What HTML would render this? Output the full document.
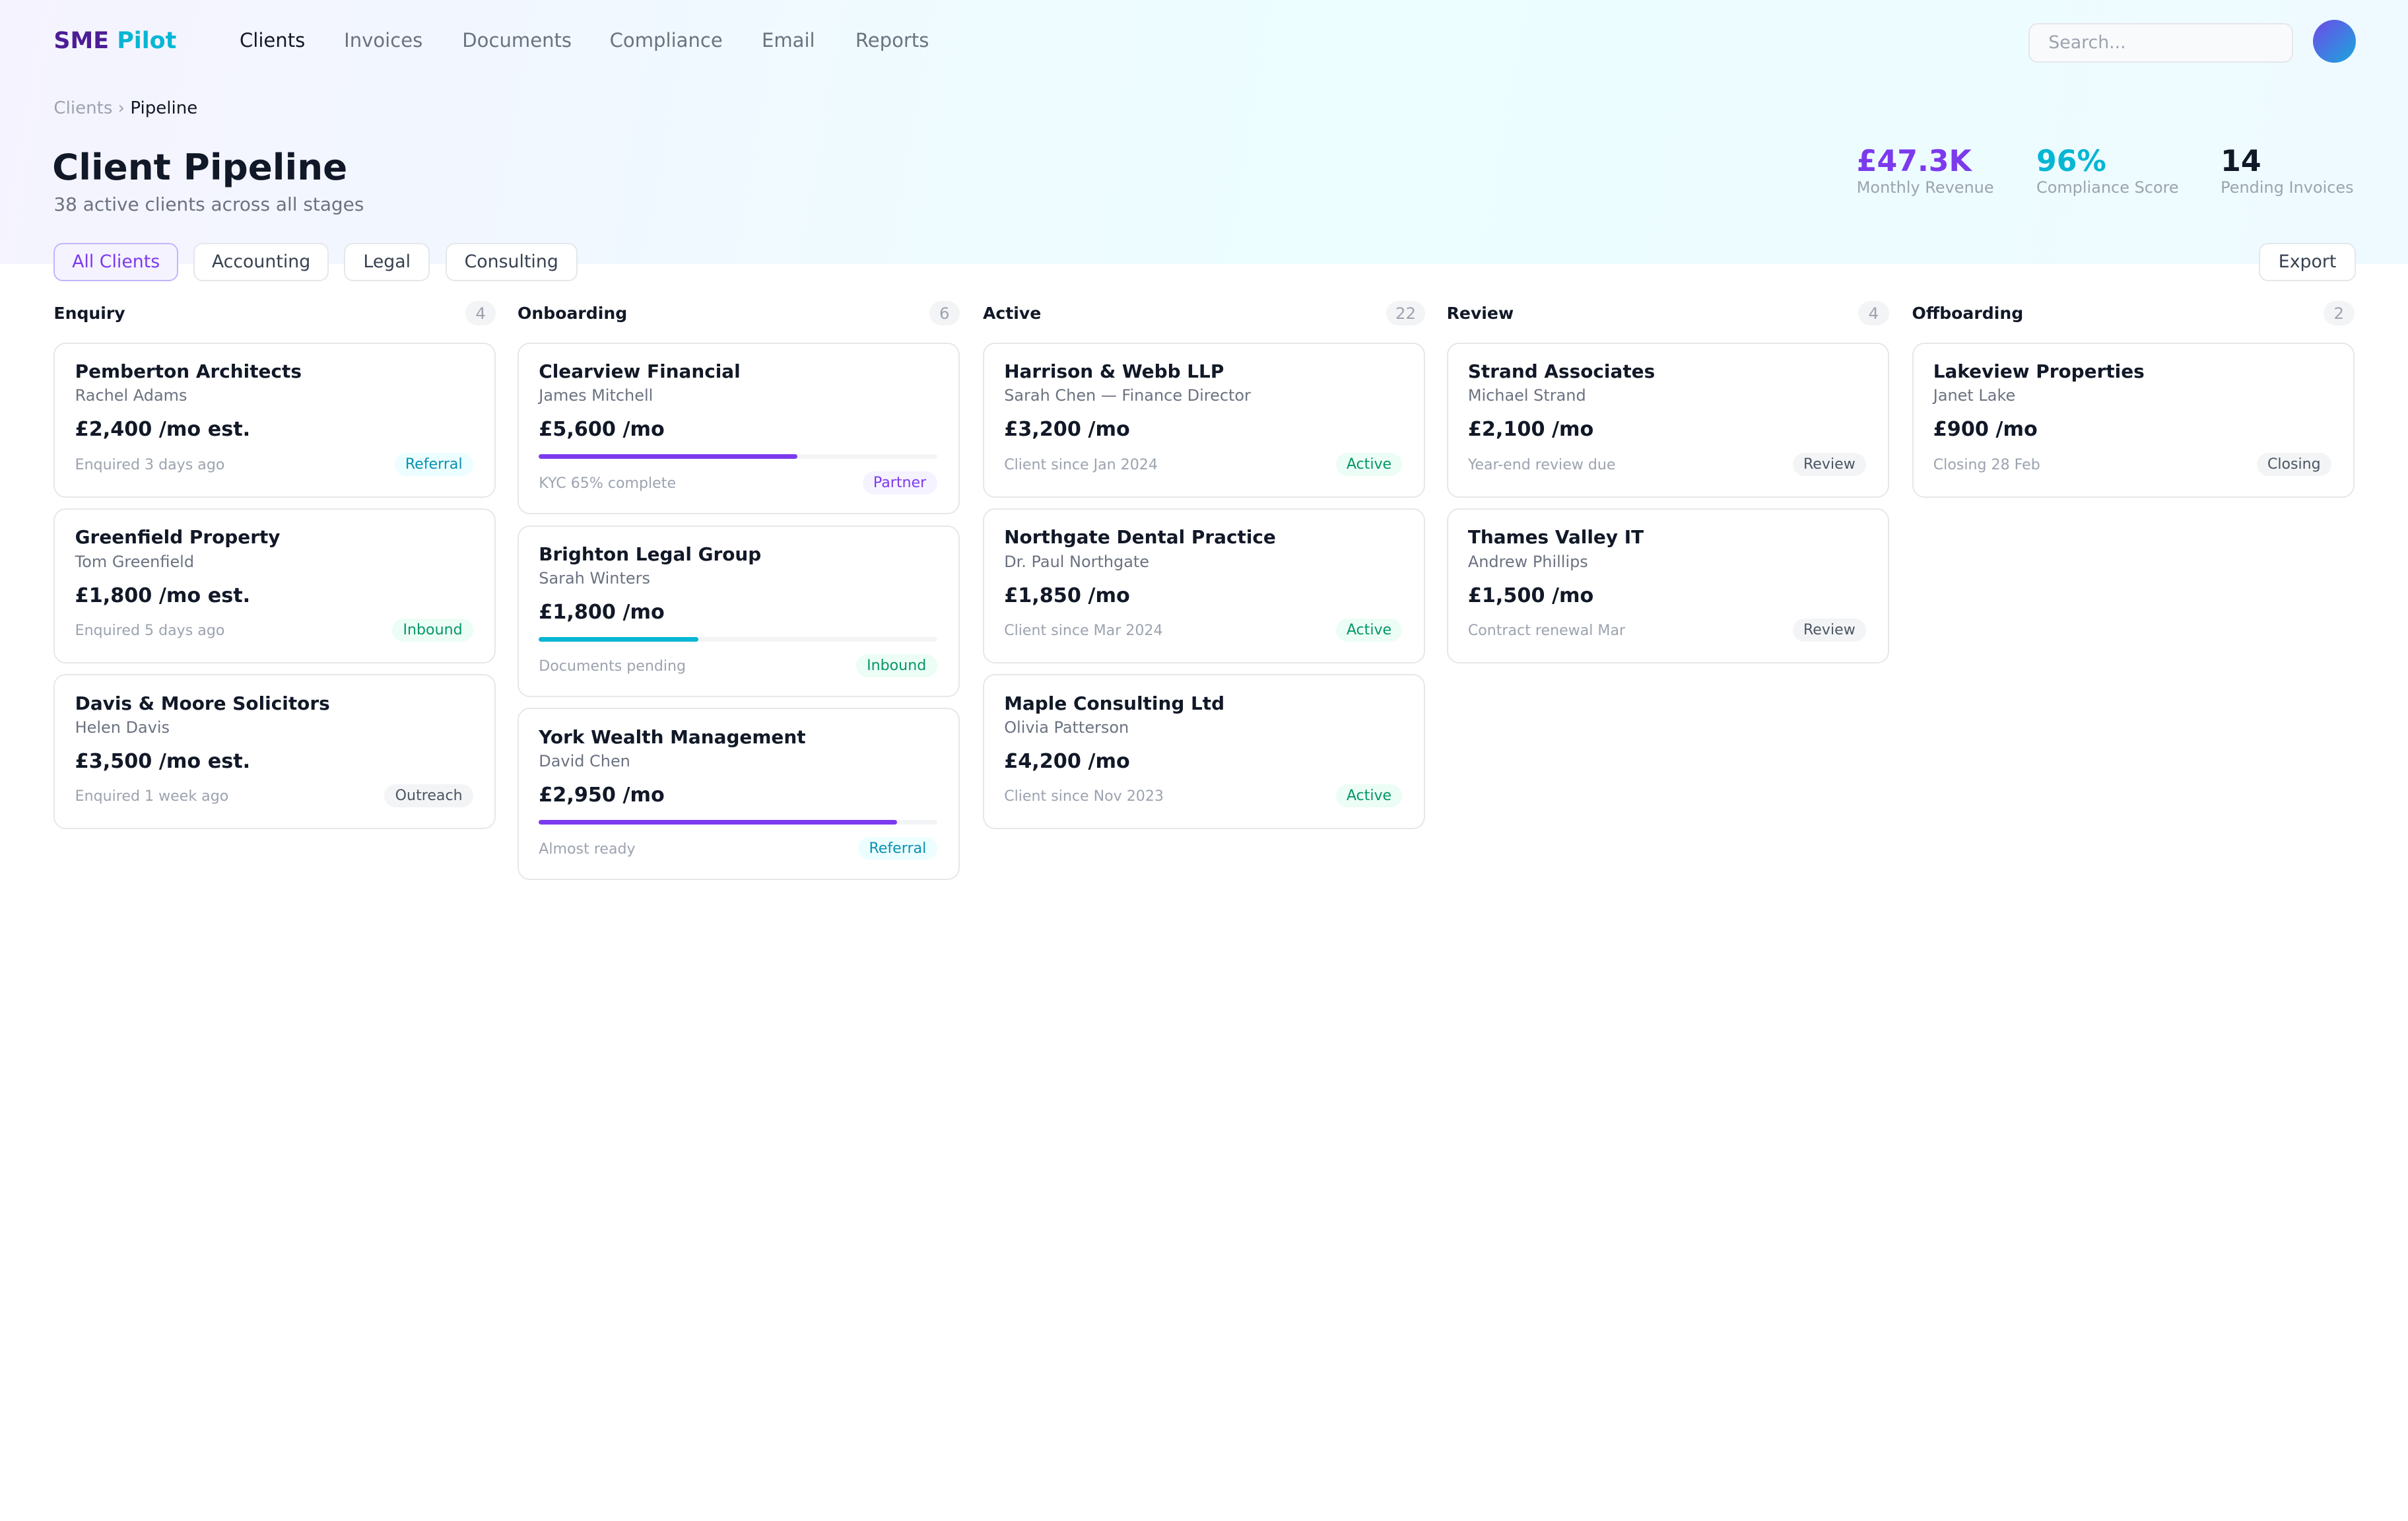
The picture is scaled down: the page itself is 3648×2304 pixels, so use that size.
<!DOCTYPE html>
<html><head><meta charset="utf-8"><style>
*{margin:0;padding:0;box-sizing:border-box}
html,body{width:3648px;height:2304px;overflow:hidden;background:#fff}
#root{zoom:2.326531;width:1568px;height:990px;position:relative;font-family:"DejaVu Sans","Liberation Sans",sans-serif;color:#111827}
.hdr{position:absolute;left:0;top:0;width:1568px;height:172px;background:linear-gradient(100deg,#f5f3ff 0%,#ecfeff 55%,#eefaff 100%)}
.abs{position:absolute;white-space:nowrap}
.nav{font-size:12.5px;color:#6b7280;top:19px}
.btn{position:absolute;top:158px;height:25px;border:1px solid #e5e7eb;border-radius:6px;background:#fff;font-size:11.5px;color:#374151;line-height:23px;text-align:center}
.col{position:absolute;top:196px;width:288px}
.ch{height:16px;font-size:10.8px;font-weight:bold;line-height:16px;position:relative}
.cnt{position:absolute;right:0;top:0;height:16px;min-width:20px;padding:0 6px;border-radius:8px;background:#f3f4f6;color:#9ca3af;font-weight:normal;font-size:10.5px;text-align:center}
.card{position:relative;border:1px solid #e5e7eb;border-radius:8px;background:#fff;height:101px;margin-bottom:7px}
.card.p{height:112px}
.cards{margin-top:11px}
.card div{position:absolute;left:13px;white-space:nowrap;line-height:16px}
.n{top:10px;font-size:12px;font-weight:bold}
.c{top:26px;font-size:10.3px;color:#6b7280}
.a{top:48px;font-size:13px;font-weight:bold}
.f{top:71px;font-size:9.5px;color:#9ca3af}
.p .f{top:83px}
.card .b{left:auto;right:14px;top:71px;font-size:9.5px;padding:0 7px;border-radius:8px;line-height:15px}
.p .b{top:83px}
.card .tr{top:72px;right:14px;height:3px;background:#f3f4f6;border-radius:2px}
.card .tr i{display:block;height:3px;border-radius:2px}
.ref{background:#ecfeff;color:#0891b2}.inb{background:#ecfdf5;color:#059669}.gr{background:#f3f4f6;color:#4b5563}.par{background:#f5f3ff;color:#7c3aed}
</style></head><body><div id="root">
<div class="hdr"></div>
<div class="abs" style="left:35px;top:18px;font-size:15px;font-weight:bold;color:#4c1d95">SME <span style="color:#06b6d4">Pilot</span></div>
<div class="abs nav" style="left:156px;color:#111827">Clients</div>
<div class="abs nav" style="left:224px">Invoices</div>
<div class="abs nav" style="left:301px">Documents</div>
<div class="abs nav" style="left:397px">Compliance</div>
<div class="abs nav" style="left:496px">Email</div>
<div class="abs nav" style="left:557px">Reports</div>
<div class="abs" style="left:1321px;top:15px;width:172px;height:26px;border:1px solid #e5e7eb;border-radius:6px;background:#f9fafb;font-size:11.5px;color:#9ca3af;padding-left:12px;line-height:24px">Search...</div>
<div class="abs" style="left:1506px;top:13px;width:28px;height:28px;border-radius:50%;background:linear-gradient(135deg,#6d4ae8,#1aa7dc)"></div>
<div class="abs" style="left:35px;top:64px;font-size:11.2px;color:#9ca3af">Clients › <span style="color:#111827">Pipeline</span></div>
<div class="abs" style="left:34px;top:95px;font-size:23.5px;font-weight:bold">Client Pipeline</div>
<div class="abs" style="left:35px;top:126px;font-size:12px;color:#6b7280">38 active clients across all stages</div>
<div class="abs" style="left:1209px;top:94px;font-size:19px;font-weight:bold;color:#7c3aed">£47.3K</div>
<div class="abs" style="left:1209px;top:116px;font-size:10.3px;color:#9ca3af">Monthly Revenue</div>
<div class="abs" style="left:1326px;top:94px;font-size:19px;font-weight:bold;color:#06b6d4">96%</div>
<div class="abs" style="left:1326px;top:116px;font-size:10.3px;color:#9ca3af">Compliance Score</div>
<div class="abs" style="left:1446px;top:94px;font-size:19px;font-weight:bold;color:#111827">14</div>
<div class="abs" style="left:1446px;top:116px;font-size:10.3px;color:#9ca3af">Pending Invoices</div>
<div class="btn" style="left:35px;width:81px;background:#f5f3ff;border-color:#c4b5fd;color:#7c3aed">All Clients</div>
<div class="btn" style="left:126px;width:88px">Accounting</div>
<div class="btn" style="left:224px;width:56px">Legal</div>
<div class="btn" style="left:290px;width:86px">Consulting</div>
<div class="btn" style="left:1471px;width:63px">Export</div>

<div class="col" style="left:35px"><div class="ch">Enquiry<span class="cnt">4</span></div><div class="cards">
<div class="card"><div class="n">Pemberton Architects</div><div class="c">Rachel Adams</div><div class="a">£2,400 /mo est.</div><div class="f">Enquired 3 days ago</div><div class="b ref">Referral</div></div>
<div class="card"><div class="n">Greenfield Property</div><div class="c">Tom Greenfield</div><div class="a">£1,800 /mo est.</div><div class="f">Enquired 5 days ago</div><div class="b inb">Inbound</div></div>
<div class="card"><div class="n">Davis &amp; Moore Solicitors</div><div class="c">Helen Davis</div><div class="a">£3,500 /mo est.</div><div class="f">Enquired 1 week ago</div><div class="b gr">Outreach</div></div>
</div></div>

<div class="col" style="left:337px"><div class="ch">Onboarding<span class="cnt">6</span></div><div class="cards">
<div class="card p"><div class="n">Clearview Financial</div><div class="c">James Mitchell</div><div class="a">£5,600 /mo</div><div class="tr"><i style="width:65%;background:#7c3aed"></i></div><div class="f">KYC 65% complete</div><div class="b par">Partner</div></div>
<div class="card p"><div class="n">Brighton Legal Group</div><div class="c">Sarah Winters</div><div class="a">£1,800 /mo</div><div class="tr"><i style="width:40%;background:#06b6d4"></i></div><div class="f">Documents pending</div><div class="b inb">Inbound</div></div>
<div class="card p"><div class="n">York Wealth Management</div><div class="c">David Chen</div><div class="a">£2,950 /mo</div><div class="tr"><i style="width:90%;background:#7c3aed"></i></div><div class="f">Almost ready</div><div class="b ref">Referral</div></div>
</div></div>

<div class="col" style="left:640px"><div class="ch">Active<span class="cnt">22</span></div><div class="cards">
<div class="card"><div class="n">Harrison &amp; Webb LLP</div><div class="c">Sarah Chen — Finance Director</div><div class="a">£3,200 /mo</div><div class="f">Client since Jan 2024</div><div class="b inb">Active</div></div>
<div class="card"><div class="n">Northgate Dental Practice</div><div class="c">Dr. Paul Northgate</div><div class="a">£1,850 /mo</div><div class="f">Client since Mar 2024</div><div class="b inb">Active</div></div>
<div class="card"><div class="n">Maple Consulting Ltd</div><div class="c">Olivia Patterson</div><div class="a">£4,200 /mo</div><div class="f">Client since Nov 2023</div><div class="b inb">Active</div></div>
</div></div>

<div class="col" style="left:942px"><div class="ch">Review<span class="cnt">4</span></div><div class="cards">
<div class="card"><div class="n">Strand Associates</div><div class="c">Michael Strand</div><div class="a">£2,100 /mo</div><div class="f">Year-end review due</div><div class="b gr">Review</div></div>
<div class="card"><div class="n">Thames Valley IT</div><div class="c">Andrew Phillips</div><div class="a">£1,500 /mo</div><div class="f">Contract renewal Mar</div><div class="b gr">Review</div></div>
</div></div>

<div class="col" style="left:1245px"><div class="ch">Offboarding<span class="cnt">2</span></div><div class="cards">
<div class="card"><div class="n">Lakeview Properties</div><div class="c">Janet Lake</div><div class="a">£900 /mo</div><div class="f">Closing 28 Feb</div><div class="b gr">Closing</div></div>
</div></div>
</div></body></html>
